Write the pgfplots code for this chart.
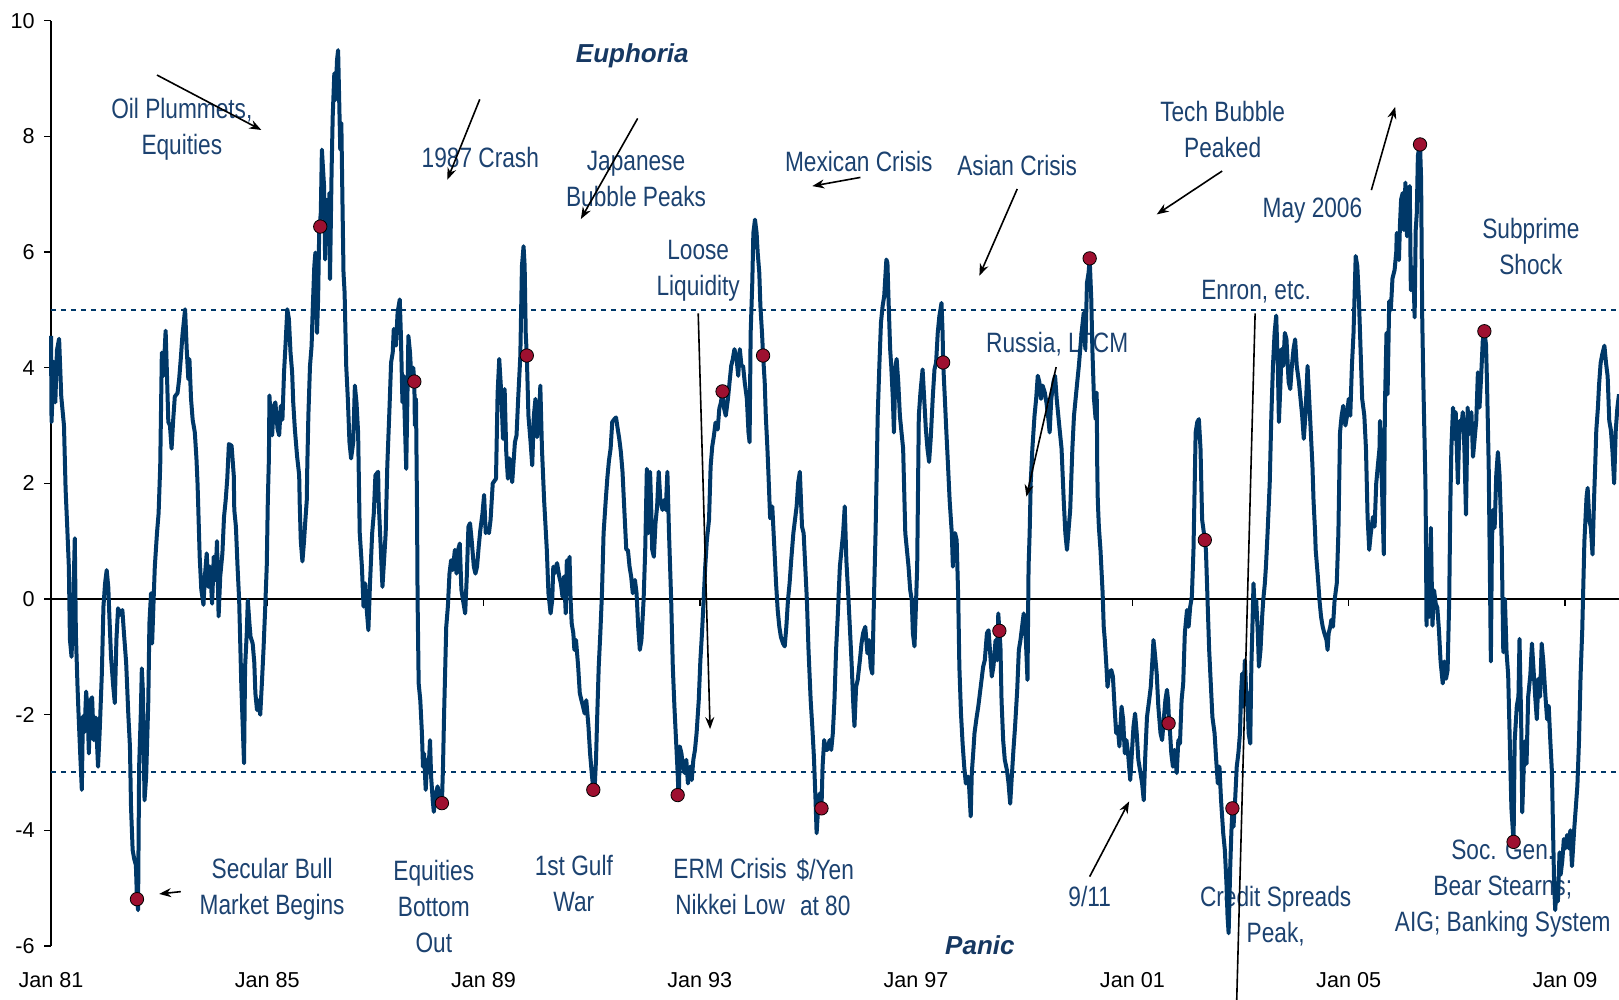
\documentclass[border=0pt]{standalone}
\usepackage{fontspec}
\setmainfont{Liberation Sans}
\newfontfamily\narrowfont[FakeStretch=0.81]{Liberation Sans}
\usepackage{pgfplots}
\pgfplotsset{compat=1.18}
\usetikzlibrary{arrows.meta}

\definecolor{navyline}{RGB}{0,56,104}
\definecolor{annot}{RGB}{28,66,112}
\definecolor{headtext}{RGB}{22,56,98}
\definecolor{dotred}{RGB}{158,16,48}

\tikzset{
  note/.style={font=\narrowfont\fontsize{14}{18}\selectfont, text=annot, align=center, inner sep=0pt, yshift=-1.2pt},
  head/.style={font=\fontsize{13}{15}\selectfont\bfseries\itshape, text=headtext, inner sep=0pt, yshift=-1pt},
  arr/.style={black, line width=0.8pt, -{Stealth[length=6pt,width=4.5pt]}},
}

\begin{document}
\begin{tikzpicture}
\begin{axis}[
  at={(0pt,0pt)}, anchor=south west,
  scale only axis, width=784pt, height=462.65pt,
  xmin=1981, xmax=2010, ymin=-6, ymax=10,
  clip=false,
  axis x line*=bottom, axis y line*=left,
  axis line style={-},
  x axis line style={draw=none},
  y axis line style={black, line width=0.8pt},
  xtick={1981,1985,1989,1993,1997,2001,2005,2009},
  xticklabels={Jan 81,Jan 85,Jan 89,Jan 93,Jan 97,Jan 01,Jan 05,Jan 09},
  xtick style={draw=none},
  ytick={-6,-4,-2,0,2,4,6,8,10},
  yticklabels={-6,-4,-2,0,2,4,6,8,10},
  ytick style={black, line width=0.8pt},
  tick align=outside, major tick length=3.5pt,
  tick label style={font=\fontsize{10.8}{12}\selectfont, text=black},
  xticklabel style={yshift=-6.2pt},
  yticklabel style={xshift=-1.2pt},
]

% reference lines
\draw[black, line width=0.8pt] (axis cs:1981,0) -- (axis cs:2010,0);
\draw[black, line width=0.8pt] (axis cs:1985,0) -- ++(0pt,-3.5pt);
\draw[black, line width=0.8pt] (axis cs:1989,0) -- ++(0pt,-3.5pt);
\draw[black, line width=0.8pt] (axis cs:1993,0) -- ++(0pt,-3.5pt);
\draw[black, line width=0.8pt] (axis cs:1997,0) -- ++(0pt,-3.5pt);
\draw[black, line width=0.8pt] (axis cs:2001,0) -- ++(0pt,-3.5pt);
\draw[black, line width=0.8pt] (axis cs:2005,0) -- ++(0pt,-3.5pt);
\draw[black, line width=0.8pt] (axis cs:2009,0) -- ++(0pt,-3.5pt);
\draw[navyline, line width=1pt, dash pattern=on 2.4pt off 2.6pt] (axis cs:1981,5) -- (axis cs:2010,5);
\draw[navyline, line width=1pt, dash pattern=on 2.4pt off 2.6pt] (axis cs:1981,-3) -- (axis cs:2010,-3);

% annotations (under the series)
\node[head] at (axis cs:1991.75,9.42) {Euphoria};
\node[head] at (axis cs:1998.18,-5.95) {Panic};
\node[note] at (axis cs:1983.42,8.17) {Oil Plummets,\\Equities};
\node[note] at (axis cs:1988.94,7.68) {1987 Crash};
\node[note] at (axis cs:1991.82,7.31) {Japanese\\Bubble Peaks};
\node[note] at (axis cs:1995.94,7.60) {Mexican Crisis};
\node[note] at (axis cs:1998.87,7.53) {Asian Crisis};
\node[note] at (axis cs:1999.61,4.45) {Russia, LTCM};
\node[note] at (axis cs:2002.67,8.16) {Tech Bubble\\Peaked};
\node[note] at (axis cs:2004.33,6.76) {May 2006};
\node[note] at (axis cs:2008.37,6.13) {Subprime\\Shock};
\node[note] at (axis cs:1992.97,5.71) {Loose\\Liquidity};
\node[note] at (axis cs:2003.29,5.36) {Enron, etc.};
\node[note] at (axis cs:1985.09,-4.97) {Secular Bull\\Market Begins};
\node[note] at (axis cs:1988.08,-5.27) {Equities\\Bottom\\Out};
\node[note] at (axis cs:1990.67,-4.88) {1st Gulf\\War};
\node[note] at (axis cs:1993.56,-4.93) {ERM Crisis\\Nikkei Low};
\node[note] at (axis cs:1995.32,-4.95) {\$/Yen\\at 80};
\node[note] at (axis cs:2000.21,-5.10) {9/11};
\node[note] at (axis cs:2003.65,-5.45) {Credit Spreads\\Peak,};
\node[note] at (axis cs:2007.85,-4.96) {Soc. Gen.\\Bear Stearns;\\AIG; Banking System};

% series
\addplot[navyline, line width=2pt, line join=round, mark=none] coordinates {
(1981.00,4.55) (1981.01,3.06) (1981.05,4.1) (1981.08,3.4) (1981.11,4.3) (1981.15,4.5) (1981.19,3.5) (1981.24,3.0) (1981.27,1.9) (1981.30,1.25)
(1981.33,0.56) (1981.35,-0.7) (1981.38,-1.0) (1981.41,-0.13) (1981.44,1.05) (1981.46,-0.6) (1981.49,-1.5) (1981.51,-2.0) (1981.54,-2.67) (1981.57,-3.3)
(1981.59,-2.03) (1981.62,-2.3) (1981.65,-1.6) (1981.68,-2.0) (1981.70,-2.67) (1981.73,-1.75) (1981.76,-1.7) (1981.79,-2.44) (1981.83,-2.05) (1981.87,-2.9)
(1981.90,-2.3) (1981.94,-1.3) (1981.97,-0.13) (1982.00,0.27) (1982.03,0.5) (1982.06,0.2) (1982.08,-0.3) (1982.11,-1.0) (1982.15,-1.5) (1982.18,-1.8)
(1982.21,-0.7) (1982.24,-0.16) (1982.27,-0.28) (1982.32,-0.19) (1982.35,-0.6) (1982.39,-1.1) (1982.43,-2.0) (1982.46,-2.55) (1982.48,-3.6) (1982.51,-4.34)
(1982.54,-4.5) (1982.57,-4.6) (1982.59,-5.19) (1982.61,-5.38) (1982.63,-2.9) (1982.66,-2.0) (1982.68,-1.2) (1982.70,-1.6) (1982.73,-3.48) (1982.76,-3.07)
(1982.80,-1.75) (1982.82,-0.42) (1982.85,0.1) (1982.87,-0.77) (1982.90,0.04) (1982.92,0.56) (1982.96,1.14) (1982.99,1.48) (1983.02,2.3) (1983.05,4.26)
(1983.08,3.86) (1983.12,4.64) (1983.14,4.03) (1983.17,3.06) (1983.20,3.0) (1983.23,2.6) (1983.26,3.1) (1983.29,3.5) (1983.34,3.56) (1983.37,3.8)
(1983.40,4.15) (1983.43,4.55) (1983.48,5.01) (1983.51,4.32) (1983.54,3.8) (1983.56,4.15) (1983.59,3.46) (1983.62,3.1) (1983.66,2.88) (1983.69,2.43)
(1983.71,2.0) (1983.72,1.7) (1983.75,0.73) (1983.78,0.16) (1983.82,-0.1) (1983.85,0.44) (1983.88,0.79) (1983.91,0.21) (1983.94,0.56) (1983.98,-0.08)
(1984.01,0.73) (1984.04,0.33) (1984.07,1.0) (1984.10,-0.3) (1984.13,0.39) (1984.17,0.79) (1984.20,1.42) (1984.23,1.7) (1984.26,2.08) (1984.29,2.68)
(1984.34,2.65) (1984.38,2.14) (1984.39,1.54) (1984.42,1.25) (1984.45,0.56) (1984.48,-0.02) (1984.52,-1.5) (1984.55,-2.3) (1984.57,-2.84) (1984.59,-1.17)
(1984.62,-0.6) (1984.64,-0.02) (1984.67,-0.42) (1984.69,-0.65) (1984.73,-0.77) (1984.76,-1.1) (1984.78,-1.63) (1984.81,-1.92) (1984.83,-1.75) (1984.87,-2.0)
(1984.90,-1.46) (1984.93,-0.88) (1984.96,-0.19) (1984.99,0.56) (1985.01,1.7) (1985.03,2.43) (1985.04,3.52) (1985.06,3.16) (1985.09,2.83) (1985.12,3.34)
(1985.15,3.4) (1985.19,2.94) (1985.22,2.83) (1985.25,3.34) (1985.28,3.1) (1985.31,3.92) (1985.34,4.44) (1985.37,5.01) (1985.40,4.84) (1985.43,4.26)
(1985.46,3.92) (1985.48,3.4) (1985.51,2.94) (1985.55,2.48) (1985.59,2.14) (1985.60,1.65) (1985.62,1.0) (1985.65,0.65) (1985.68,1.0) (1985.70,1.3)
(1985.73,1.7) (1985.74,2.3) (1985.76,3.17) (1985.79,4.03) (1985.82,4.38) (1985.84,5.0) (1985.87,5.76) (1985.89,5.99) (1985.92,4.6) (1985.94,5.18)
(1985.96,6.33) (1985.99,6.68) (1986.01,7.77) (1986.05,7.14) (1986.07,5.87) (1986.10,6.9) (1986.12,6.22) (1986.15,7.02) (1986.16,5.53) (1986.19,7.43)
(1986.21,8.34) (1986.24,9.09) (1986.26,8.63) (1986.29,9.32) (1986.31,9.49) (1986.33,8.63) (1986.35,7.77) (1986.37,8.23) (1986.39,6.9) (1986.41,5.64)
(1986.43,5.3) (1986.46,4.03) (1986.49,3.46) (1986.52,2.71) (1986.55,2.43) (1986.59,2.71) (1986.62,3.69) (1986.65,3.4) (1986.68,2.88) (1986.71,1.14)
(1986.75,0.56) (1986.78,-0.13) (1986.81,0.27) (1986.84,-0.19) (1986.87,-0.54) (1986.90,0.27) (1986.94,1.14) (1986.97,1.48) (1987.00,2.14) (1987.05,2.2)
(1987.06,1.7) (1987.10,0.85) (1987.13,0.21) (1987.16,0.67) (1987.19,1.14) (1987.22,2.31) (1987.26,3.29) (1987.29,4.09) (1987.32,4.26) (1987.34,4.67)
(1987.38,4.38) (1987.41,4.95) (1987.45,5.18) (1987.47,4.6) (1987.50,3.4) (1987.52,3.86) (1987.55,2.88) (1987.57,2.25) (1987.61,4.55) (1987.64,4.26)
(1987.67,3.75) (1987.70,4.0) (1987.72,3.76) (1987.73,3.0) (1987.75,3.46) (1987.77,1.5) (1987.78,-0.02) (1987.80,-1.46) (1987.83,-1.75) (1987.86,-2.32)
(1987.88,-2.9) (1987.90,-2.67) (1987.93,-3.3) (1987.96,-2.78) (1987.98,-3.0) (1988.01,-2.44) (1988.03,-3.07) (1988.06,-3.48) (1988.08,-3.68) (1988.12,-3.36)
(1988.15,-3.24) (1988.18,-3.42) (1988.21,-3.55) (1988.23,-3.53) (1988.25,-2.9) (1988.27,-2.0) (1988.31,-0.48) (1988.34,-0.13) (1988.37,0.44) (1988.40,0.67)
(1988.43,0.5) (1988.47,0.85) (1988.50,0.44) (1988.53,0.85) (1988.56,0.96) (1988.59,0.16) (1988.62,-0.02) (1988.66,-0.25) (1988.69,0.39) (1988.72,1.25)
(1988.75,1.31) (1988.78,1.02) (1988.82,0.56) (1988.85,0.44) (1988.88,0.56) (1988.91,0.9) (1988.94,1.19) (1988.98,1.48) (1989.01,1.8) (1989.04,1.14)
(1989.07,1.19) (1989.10,1.14) (1989.13,1.37) (1989.17,2.0) (1989.23,2.08) (1989.26,3.56) (1989.29,4.15) (1989.33,3.52) (1989.36,2.77) (1989.39,3.63)
(1989.42,2.54) (1989.45,2.08) (1989.48,2.43) (1989.53,2.02) (1989.58,2.71) (1989.61,2.83) (1989.64,3.46) (1989.68,4.2) (1989.71,5.76) (1989.74,6.1)
(1989.76,5.76) (1989.78,4.6) (1989.80,4.21) (1989.83,3.17) (1989.87,2.71) (1989.90,2.31) (1989.93,3.17) (1989.96,3.46) (1989.99,2.8) (1990.03,3.2)
(1990.05,3.69) (1990.08,2.6) (1990.12,1.71) (1990.14,1.37) (1990.17,0.85) (1990.20,0.1) (1990.24,-0.25) (1990.27,-0.02) (1990.29,0.56) (1990.31,0.44)
(1990.34,0.56) (1990.36,0.62) (1990.40,0.39) (1990.43,0.27) (1990.46,0.04) (1990.49,0.39) (1990.52,-0.25) (1990.54,0.67) (1990.57,0.21) (1990.59,0.73)
(1990.61,-0.02) (1990.63,-0.42) (1990.66,-0.59) (1990.68,-0.88) (1990.71,-0.71) (1990.75,-1.17) (1990.78,-1.63) (1990.81,-1.75) (1990.84,-1.86) (1990.87,-1.98)
(1990.90,-1.75) (1990.94,-2.2) (1990.97,-2.67) (1991.00,-3.0) (1991.03,-3.30) (1991.05,-3.36) (1991.08,-2.78) (1991.10,-2.09) (1991.13,-1.17) (1991.16,-0.59)
(1991.19,0.1) (1991.22,1.14) (1991.26,1.71) (1991.29,2.1) (1991.32,2.4) (1991.35,2.6) (1991.38,3.06) (1991.41,3.1) (1991.45,3.14) (1991.48,2.95)
(1991.51,2.77) (1991.54,2.54) (1991.57,2.2) (1991.61,1.42) (1991.64,0.85) (1991.67,0.85) (1991.70,0.56) (1991.73,0.39) (1991.76,0.1) (1991.80,0.33)
(1991.83,0.1) (1991.86,-0.48) (1991.89,-0.88) (1991.92,-0.71) (1991.96,-0.02) (1991.99,0.85) (1992.02,2.25) (1992.05,1.14) (1992.08,2.2) (1992.10,1.6)
(1992.12,0.85) (1992.15,0.73) (1992.18,1.31) (1992.21,1.6) (1992.24,2.2) (1992.27,1.71) (1992.31,1.54) (1992.34,1.71) (1992.37,1.54) (1992.40,2.2)
(1992.43,1.14) (1992.47,-0.02) (1992.50,-1.17) (1992.53,-1.86) (1992.56,-2.44) (1992.59,-3.01) (1992.61,-3.48) (1992.63,-2.55) (1992.66,-2.67) (1992.69,-2.9)
(1992.72,-3.01) (1992.75,-2.78) (1992.78,-3.19) (1992.82,-2.9) (1992.85,-3.13) (1992.88,-2.78) (1992.91,-2.61) (1992.94,-2.32) (1992.98,-1.75) (1993.01,-1.06)
(1993.04,-0.59) (1993.07,-0.02) (1993.10,0.56) (1993.13,1.02) (1993.17,1.37) (1993.20,2.3) (1993.23,2.64) (1993.26,2.82) (1993.29,3.05) (1993.33,2.93)
(1993.36,3.29) (1993.39,3.4) (1993.42,3.59) (1993.45,3.29) (1993.48,3.17) (1993.52,3.46) (1993.55,3.75) (1993.58,4.03) (1993.61,4.15) (1993.64,4.32)
(1993.68,4.15) (1993.71,3.86) (1993.74,4.32) (1993.77,4.03) (1993.80,4.03) (1993.83,3.75) (1993.87,3.46) (1993.90,2.88) (1993.92,2.71) (1993.94,4.6)
(1993.97,5.47) (1993.99,6.33) (1994.02,6.56) (1994.05,6.33) (1994.07,5.99) (1994.10,5.64) (1994.12,5.07) (1994.15,4.6) (1994.17,4.21) (1994.20,3.75)
(1994.22,3.17) (1994.25,2.6) (1994.27,2.14) (1994.30,1.4) (1994.33,1.42) (1994.34,1.6) (1994.38,0.85) (1994.41,0.27) (1994.44,-0.19) (1994.47,-0.48)
(1994.50,-0.66) (1994.54,-0.77) (1994.57,-0.82) (1994.60,-0.48) (1994.63,-0.02) (1994.66,0.27) (1994.69,0.67) (1994.73,1.14) (1994.76,1.37) (1994.79,1.6)
(1994.82,2.02) (1994.85,2.2) (1994.89,1.25) (1994.92,1.14) (1994.95,0.56) (1994.98,-0.02) (1995.01,-0.88) (1995.05,-1.75) (1995.08,-2.21) (1995.11,-2.73)
(1995.14,-3.48) (1995.16,-4.05) (1995.19,-3.59) (1995.22,-3.36) (1995.25,-3.62) (1995.27,-2.9) (1995.30,-2.44) (1995.33,-2.61) (1995.36,-2.61) (1995.40,-2.44)
(1995.43,-2.61) (1995.46,-2.32) (1995.49,-1.75) (1995.52,-0.88) (1995.55,-0.31) (1995.59,0.56) (1995.62,0.85) (1995.65,1.14) (1995.68,1.6) (1995.71,0.67)
(1995.75,-0.02) (1995.78,-0.59) (1995.81,-1.17) (1995.84,-1.86) (1995.86,-2.2) (1995.89,-1.52) (1995.92,-1.4) (1995.96,-1.06) (1995.99,-0.77) (1996.02,-0.59)
(1996.06,-0.48) (1996.10,-0.94) (1996.13,-0.71) (1996.16,-1.17) (1996.19,-1.29) (1996.22,-0.02) (1996.25,1.14) (1996.29,3.17) (1996.32,4.03) (1996.35,4.78)
(1996.38,5.06) (1996.41,5.24) (1996.45,5.87) (1996.47,5.81) (1996.49,5.18) (1996.52,4.32) (1996.54,4.03) (1996.57,3.46) (1996.59,2.88) (1996.62,4.03)
(1996.64,4.15) (1996.67,3.75) (1996.70,3.17) (1996.73,2.88) (1996.76,2.6) (1996.80,1.14) (1996.83,0.85) (1996.86,0.56) (1996.89,0.16) (1996.92,-0.02)
(1996.94,-0.59) (1996.97,-0.82) (1996.99,-0.31) (1997.02,0.56) (1997.05,3.17) (1997.08,3.57) (1997.12,3.97) (1997.15,3.46) (1997.18,2.94) (1997.21,2.6)
(1997.24,2.37) (1997.27,2.77) (1997.31,3.52) (1997.34,3.97) (1997.37,4.09) (1997.40,4.6) (1997.43,4.89) (1997.47,5.12) (1997.49,4.6) (1997.50,4.09)
(1997.53,3.5) (1997.56,2.88) (1997.59,2.31) (1997.62,1.71) (1997.66,1.14) (1997.68,0.56) (1997.69,0.85) (1997.72,1.14) (1997.75,1.02) (1997.78,-0.02)
(1997.80,-1.17) (1997.83,-1.98) (1997.86,-2.5) (1997.89,-2.9) (1997.92,-3.19) (1997.96,-3.07) (1997.98,-3.24) (1998.01,-3.76) (1998.03,-3.01) (1998.06,-2.61)
(1998.08,-2.32) (1998.12,-2.04) (1998.15,-1.86) (1998.18,-1.63) (1998.21,-1.4) (1998.24,-1.17) (1998.27,-1.06) (1998.31,-0.59) (1998.34,-0.54) (1998.37,-0.94)
(1998.40,-1.34) (1998.43,-1.17) (1998.47,-0.71) (1998.50,-1.06) (1998.52,-0.25) (1998.54,-0.55) (1998.56,-0.82) (1998.58,-1.75) (1998.61,-2.44) (1998.64,-2.78)
(1998.68,-2.96) (1998.71,-3.19) (1998.74,-3.54) (1998.77,-3.07) (1998.80,-2.61) (1998.83,-2.21) (1998.87,-1.57) (1998.90,-0.88) (1998.93,-0.71) (1998.96,-0.48)
(1998.99,-0.25) (1999.03,-0.71) (1999.06,-1.4) (1999.08,0.56) (1999.10,1.14) (1999.12,2.02) (1999.15,2.6) (1999.19,3.17) (1999.22,3.46) (1999.25,3.86)
(1999.28,3.75) (1999.31,3.46) (1999.34,3.69) (1999.38,3.57) (1999.41,3.4) (1999.44,3.17) (1999.47,2.88) (1999.50,3.46) (1999.54,3.75) (1999.57,3.86)
(1999.60,3.46) (1999.63,3.17) (1999.66,2.88) (1999.69,2.6) (1999.73,1.71) (1999.76,1.14) (1999.79,0.85) (1999.82,1.2) (1999.85,1.54) (1999.89,2.6)
(1999.92,3.17) (1999.95,3.46) (1999.98,3.75) (2000.01,4.03) (2000.06,4.6) (2000.10,4.95) (2000.13,4.32) (2000.16,5.47) (2000.19,5.64) (2000.21,5.89)
(2000.24,5.18) (2000.26,4.32) (2000.29,3.46) (2000.32,3.11) (2000.34,3.57) (2000.35,2.3) (2000.36,1.71) (2000.38,1.25) (2000.41,0.85) (2000.45,0.1)
(2000.47,-0.48) (2000.49,-0.71) (2000.52,-1.17) (2000.54,-1.52) (2000.57,-1.29) (2000.61,-1.23) (2000.64,-1.34) (2000.67,-1.86) (2000.70,-2.32) (2000.73,-2.21)
(2000.76,-2.55) (2000.80,-1.86) (2000.83,-2.09) (2000.86,-2.67) (2000.89,-2.44) (2000.92,-2.67) (2000.96,-3.13) (2000.99,-2.67) (2001.02,-2.21) (2001.05,-1.98)
(2001.08,-2.32) (2001.11,-2.78) (2001.15,-3.01) (2001.18,-3.19) (2001.21,-3.48) (2001.24,-2.67) (2001.27,-2.04) (2001.31,-1.75) (2001.34,-1.52) (2001.37,-1.06)
(2001.39,-0.71) (2001.41,-0.88) (2001.45,-1.29) (2001.48,-1.86) (2001.52,-2.32) (2001.55,-2.44) (2001.58,-2.09) (2001.61,-1.75) (2001.64,-1.57) (2001.66,-1.75)
(2001.68,-2.15) (2001.69,-2.21) (2001.72,-2.67) (2001.75,-2.9) (2001.78,-2.61) (2001.82,-3.01) (2001.85,-2.44) (2001.88,-2.5) (2001.91,-1.75) (2001.94,-1.46)
(2001.97,-0.59) (2002.01,-0.19) (2002.04,-0.48) (2002.07,-0.13) (2002.10,0.04) (2002.13,0.85) (2002.17,2.88) (2002.20,3.06) (2002.23,3.11) (2002.26,2.6)
(2002.29,1.37) (2002.34,1.02) (2002.36,0.85) (2002.39,-0.02) (2002.42,-0.88) (2002.45,-1.46) (2002.48,-2.04) (2002.52,-2.32) (2002.55,-2.78) (2002.58,-3.19)
(2002.61,-2.9) (2002.64,-3.48) (2002.68,-4.05) (2002.71,-4.34) (2002.74,-4.92) (2002.76,-5.49) (2002.78,-5.78) (2002.81,-4.63) (2002.83,-4.05) (2002.85,-3.62)
(2002.87,-3.94) (2002.90,-3.48) (2002.93,-2.9) (2002.96,-2.67) (2002.99,-2.32) (2003.01,-1.63) (2003.03,-1.29) (2003.05,-1.86) (2003.08,-1.06) (2003.10,-1.52)
(2003.13,-1.75) (2003.15,-2.32) (2003.18,-2.5) (2003.20,-1.17) (2003.22,-0.48) (2003.24,0.27) (2003.27,-0.31) (2003.29,-0.02) (2003.32,-0.59) (2003.34,-1.17)
(2003.37,-0.88) (2003.40,-0.31) (2003.42,-0.02) (2003.45,0.27) (2003.47,0.56) (2003.50,1.14) (2003.54,2.0) (2003.57,3.17) (2003.60,4.03) (2003.63,4.6)
(2003.66,4.9) (2003.69,4.03) (2003.71,3.06) (2003.74,3.75) (2003.76,4.32) (2003.79,4.03) (2003.82,4.6) (2003.85,4.49) (2003.89,3.75) (2003.92,3.63)
(2003.95,4.03) (2003.98,4.32) (2004.01,4.49) (2004.04,4.03) (2004.08,3.75) (2004.11,3.46) (2004.14,3.17) (2004.17,2.77) (2004.20,3.17) (2004.24,4.03)
(2004.27,3.46) (2004.30,2.88) (2004.33,2.31) (2004.35,1.71) (2004.38,1.14) (2004.39,0.85) (2004.43,0.39) (2004.46,-0.02) (2004.49,-0.31) (2004.52,-0.48)
(2004.55,-0.59) (2004.59,-0.71) (2004.61,-0.88) (2004.63,-0.59) (2004.66,-0.48) (2004.68,-0.36) (2004.71,-0.48) (2004.74,-0.02) (2004.78,0.27) (2004.81,1.14)
(2004.84,2.88) (2004.87,3.17) (2004.90,3.34) (2004.94,3.0) (2004.97,3.17) (2005.00,3.46) (2005.03,3.17) (2005.06,4.03) (2005.09,4.6) (2005.13,5.93)
(2005.16,5.76) (2005.19,5.18) (2005.22,4.32) (2005.25,3.46) (2005.29,3.17) (2005.32,2.6) (2005.35,1.42) (2005.38,0.85) (2005.41,1.14) (2005.45,1.42)
(2005.48,1.25) (2005.51,2.0) (2005.54,2.31) (2005.57,2.6) (2005.58,3.08) (2005.61,2.15) (2005.65,0.77) (2005.67,3.31) (2005.70,4.6) (2005.72,3.54)
(2005.75,5.15) (2005.78,5.0) (2005.81,5.54) (2005.85,5.69) (2005.88,6.0) (2005.89,6.33) (2005.91,6.21) (2005.93,5.86) (2005.95,6.5) (2005.97,6.91)
(2006.00,7.02) (2006.02,6.38) (2006.05,7.2) (2006.065,6.56) (2006.08,6.27) (2006.11,6.97) (2006.13,7.14) (2006.15,5.34) (2006.18,5.74) (2006.20,5.57)
(2006.22,4.87) (2006.24,6.38) (2006.26,6.67) (2006.28,7.66) (2006.30,7.78) (2006.32,7.86) (2006.34,7.26) (2006.36,4.9) (2006.38,3.8) (2006.40,2.9)
(2006.42,2.0) (2006.43,1.0) (2006.44,-0.46) (2006.47,0.62) (2006.49,-0.31) (2006.52,1.23) (2006.55,-0.46) (2006.58,0.15) (2006.61,-0.08) (2006.64,-0.15)
(2006.67,-0.54) (2006.70,-1.08) (2006.74,-1.46) (2006.77,-1.08) (2006.80,-1.38) (2006.83,-1.23) (2006.86,0.0) (2006.88,1.62) (2006.90,2.62) (2006.93,3.31)
(2006.95,2.77) (2006.98,3.23) (2007.02,2.0) (2007.05,3.08) (2007.08,2.92) (2007.11,3.23) (2007.14,2.62) (2007.17,1.46) (2007.20,3.31) (2007.23,2.85)
(2007.27,3.23) (2007.30,2.46) (2007.33,2.77) (2007.36,3.08) (2007.39,3.92) (2007.42,3.31) (2007.45,3.85) (2007.48,4.46) (2007.51,4.63) (2007.54,4.4)
(2007.56,3.69) (2007.59,2.31) (2007.61,0.62) (2007.63,-1.08) (2007.65,1.0) (2007.67,1.54) (2007.70,1.23) (2007.73,2.15) (2007.76,2.54) (2007.79,2.15)
(2007.83,1.0) (2007.86,-0.92) (2007.89,0.0) (2007.92,-0.92) (2007.95,-1.31) (2007.98,-2.46) (2008.01,-3.62) (2008.05,-4.2) (2008.07,-2.46) (2008.11,-1.85)
(2008.14,-1.69) (2008.16,-0.69) (2008.19,-2.08) (2008.21,-3.69) (2008.24,-2.85) (2008.26,-2.46) (2008.29,-2.85) (2008.32,-1.69) (2008.36,-1.31) (2008.39,-0.77)
(2008.42,-1.23) (2008.45,-1.69) (2008.48,-2.08) (2008.51,-1.38) (2008.54,-1.69) (2008.57,-0.77) (2008.60,-1.08) (2008.64,-1.69) (2008.67,-2.08) (2008.70,-1.85)
(2008.73,-2.46) (2008.76,-3.0) (2008.78,-4.0) (2008.80,-4.92) (2008.82,-5.38) (2008.85,-4.92) (2008.87,-5.23) (2008.90,-4.38) (2008.92,-4.77) (2008.95,-4.54)
(2008.98,-4.15) (2009.01,-4.31) (2009.04,-4.08) (2009.07,-4.31) (2009.10,-4.0) (2009.13,-4.62) (2009.17,-4.0) (2009.20,-3.62) (2009.23,-3.23) (2009.26,-2.46)
(2009.29,-1.31) (2009.32,-0.54) (2009.34,0.23) (2009.36,1.0) (2009.40,1.77) (2009.42,1.92) (2009.45,1.38) (2009.48,1.23) (2009.51,0.77) (2009.54,1.77)
(2009.56,2.31) (2009.58,2.92) (2009.61,3.31) (2009.63,3.69) (2009.66,4.08) (2009.69,4.23) (2009.73,4.38) (2009.76,4.08) (2009.79,3.85) (2009.82,3.08)
(2009.85,2.92) (2009.88,2.54) (2009.91,2.0) (2009.94,2.92) (2009.97,3.31) (2010.00,3.54)
};

% arrows and pointer lines
\draw[arr] (axis cs:1982.96,9.06) -- (axis cs:1984.89,8.11);
\draw[arr] (axis cs:1988.93,8.64) -- (axis cs:1988.33,7.25);
\draw[arr] (axis cs:1991.85,8.31) -- (axis cs:1990.80,6.57);
\draw[arr] (axis cs:1995.97,7.29) -- (axis cs:1995.08,7.14);
\draw[arr] (axis cs:1998.87,7.09) -- (axis cs:1998.17,5.59);
\draw[arr] (axis cs:1999.59,4.01) -- (axis cs:1999.04,1.77);
\draw[arr] (axis cs:2002.66,7.40) -- (axis cs:2001.45,6.65);
\draw[arr] (axis cs:2005.42,7.07) -- (axis cs:2005.86,8.51);
\draw[arr] (axis cs:1992.97,4.94) -- (axis cs:1993.19,-2.25);
\draw[black, line width=0.8pt] (axis cs:2003.27,4.94) -- (axis cs:2002.93,-6.93);
\draw[arr] (axis cs:1983.40,-5.06) -- (axis cs:1983.00,-5.10);
\draw[arr] (axis cs:2000.21,-4.80) -- (axis cs:2000.94,-3.50);

% event markers
\addplot[only marks, mark=*, mark size=3.35pt, mark options={fill=dotred, draw=none}] coordinates {
(1982.59,-5.19) (1985.98,6.44) (1987.72,3.76) (1988.23,-3.53) (1989.80,4.21)
(1991.03,-3.30) (1992.59,-3.39) (1993.42,3.59) (1994.17,4.21) (1995.25,-3.62)
(1997.50,4.09) (1998.54,-0.55) (2000.21,5.89) (2001.67,-2.15) (2002.34,1.02)
(2002.85,-3.62) (2006.32,7.86) (2007.51,4.63) (2008.05,-4.20)
};

\end{axis}
\pgfresetboundingbox
\useasboundingbox (-25.5pt,-27pt) rectangle (784pt,473pt);
\end{tikzpicture}
\end{document}
